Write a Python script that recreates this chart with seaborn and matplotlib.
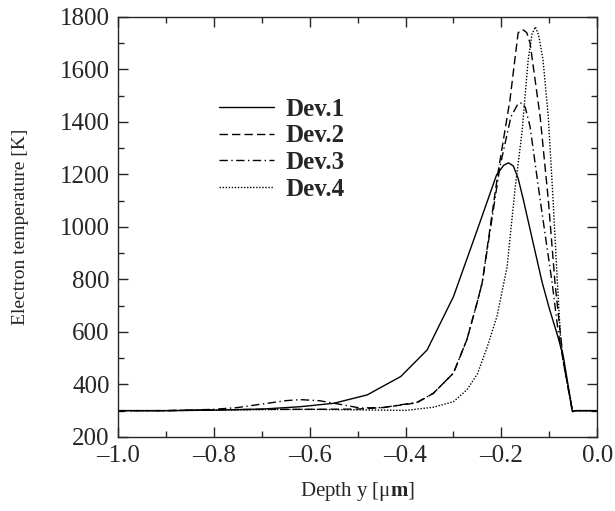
import pandas as pd
import matplotlib
matplotlib.use("Agg")
import matplotlib.pyplot as plt
import seaborn as sns

# values
dev1_x = [-1.0, -0.9, -0.8, -0.7, -0.62, -0.55, -0.48, -0.41, -0.355, -0.3, -0.25, -0.21,
          -0.195, -0.185, -0.175, -0.165, -0.154, -0.135, -0.115, -0.1, -0.081, -0.07,
          -0.0515, -0.045, 0.0]
dev1_y = [300, 300, 302, 306, 315, 328, 360, 430, 531, 734, 990, 1198,
          1235, 1244, 1232, 1185, 1103, 950, 790, 690, 576, 500,
          296, 300, 300]

dev2_x = [-1.0, -0.9, -0.8, -0.7, -0.6, -0.5, -0.446, -0.376, -0.342, -0.3, -0.272, -0.251,
          -0.24, -0.207, -0.182, -0.165, -0.157, -0.154, -0.147, -0.14, -0.119, -0.102,
          -0.088, -0.077, -0.07, -0.0515, -0.045, 0.0]
dev2_y = [300, 300, 303, 305, 305, 306, 312, 330, 366, 443, 570, 709,
          787, 1206, 1484, 1739, 1752, 1750, 1740, 1700, 1419, 1103,
          787, 596, 480, 296, 300, 300]

dev3_x = [-1.0, -0.9, -0.8, -0.75, -0.7, -0.65, -0.62, -0.58, -0.53, -0.495, -0.446, -0.376,
          -0.342, -0.3, -0.272, -0.251, -0.24, -0.203, -0.18, -0.165, -0.157, -0.15,
          -0.14, -0.119, -0.094, -0.081, -0.07, -0.0515, -0.045, 0.0]
dev3_y = [300, 300, 305, 312, 325, 338, 342, 338, 322, 310, 312, 332,
          366, 443, 570, 709, 787, 1229, 1419, 1470, 1472, 1455,
          1381, 1103, 787, 596, 480, 296, 300, 300]

dev4_x = [-1.0, -0.9, -0.8, -0.7, -0.6, -0.5, -0.4, -0.342, -0.3, -0.272, -0.25, -0.23,
          -0.209, -0.188, -0.171, -0.157, -0.144, -0.136, -0.129, -0.122, -0.113, -0.102,
          -0.092, -0.083, -0.077, -0.07, -0.0515, -0.045, 0.0]
dev4_y = [300, 300, 302, 304, 305, 303, 301, 313, 334, 379, 440, 540,
          660, 848, 1152, 1358, 1636, 1735, 1762, 1730, 1636, 1419,
          1103, 787, 596, 480, 296, 300, 300]

labels = ["Dev.1", "Dev.2", "Dev.3", "Dev.4"]
x_ticks = [-1.0, -0.8, -0.6, -0.4, -0.2, 0.0]
y_ticks = [200, 400, 600, 800, 1000, 1200, 1400, 1600, 1800]

frames = []
for name, xs, ys in zip(labels, [dev1_x, dev2_x, dev3_x, dev4_x],
                        [dev1_y, dev2_y, dev3_y, dev4_y]):
    frames.append(pd.DataFrame({"depth": xs, "temp": ys, "device": name}))
df = pd.concat(frames, ignore_index=True)

sns.set_style("ticks")
plt.rcParams["font.family"] = ["Liberation Serif", "DejaVu Serif"]
plt.rcParams["mathtext.fontset"] = "custom"
plt.rcParams["mathtext.rm"] = "Liberation Serif"
plt.rcParams["mathtext.bf"] = "Liberation Serif:bold"
plt.rcParams["axes.linewidth"] = 1.0

fig = plt.figure(figsize=(6.15, 5.11), dpi=100)
ax = fig.add_axes([0.192, 0.145, 0.779, 0.822])

dashes = {"Dev.1": "", "Dev.2": (6, 3), "Dev.3": (6, 2.5, 1, 2.5), "Dev.4": (1, 1.2)}
sns.lineplot(data=df, x="depth", y="temp", style="device", dashes=dashes,
             color="black", linewidth=1.0, sort=False, estimator=None, ax=ax)

ax.set_xlim(-1.0, 0.0)
ax.set_ylim(200, 1800)
ax.set_xticks(x_ticks)
ax.set_xticklabels([f"{v:.1f}".replace("-", "\u2013") for v in x_ticks])
ax.set_yticks(y_ticks)
ax.set_xticks([-0.9, -0.7, -0.5, -0.3, -0.1], minor=True)
ax.set_yticks([300, 500, 700, 900, 1100, 1300, 1500, 1700], minor=True)
ax.tick_params(which="both", direction="in", top=True, right=True, labelsize=18, width=1.0)
ax.tick_params(which="major", length=7, pad=6)
ax.tick_params(which="minor", length=4)

ax.set_xlabel("Depth y [\u03bc$\\mathbf{m}$]", fontsize=15, labelpad=9)
ax.set_ylabel("Electron temperature [K]", fontsize=14, labelpad=22)

ax.legend(title=None, frameon=False, loc="upper left", bbox_to_anchor=(0.211, 0.808),
          borderpad=0, borderaxespad=0, handlelength=2.2, handletextpad=0.45,
          labelspacing=0.15, prop={"family": "Liberation Serif", "weight": "bold", "size": 18})

fig.savefig("out.png", dpi=100)
